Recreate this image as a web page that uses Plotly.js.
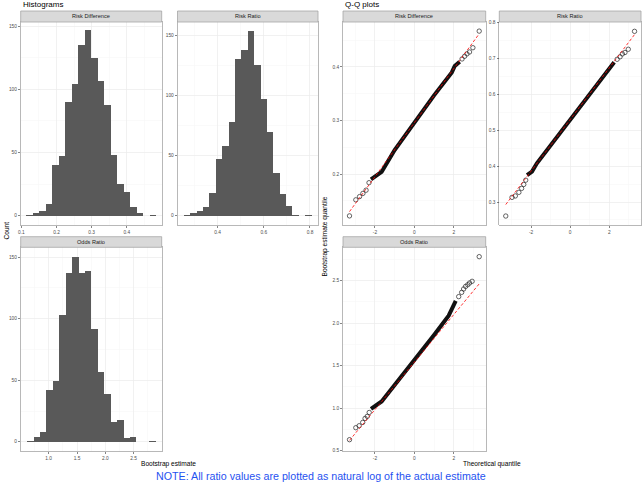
<!DOCTYPE html>
<html>
<head>
<meta charset="utf-8">
<script src="https://cdn.plot.ly/plotly-3.0.1.min.js"></script>
<style>html,body{margin:0;padding:0;background:#fff;}#chart{width:642px;height:482px;}</style>
</head>
<body>
<div id="chart"></div>
<script>
// ---------- DATA ----------
const facetLabels = ["Risk Difference", "Risk Ratio", "Odds Ratio"];

// Histogram bins (centres) and counts
const histRdCenters = [0.1227,0.1413,0.1598,0.1784,0.1970,0.2155,0.2341,0.2526,0.2712,0.2898,0.3083,0.3269,0.3454,0.3640,0.3826,0.4011,0.4197,0.4382,0.4568,0.4754];
const histRdCounts  = [1,2,4,9,40,47,90,104,135,147,125,107,88,48,25,19,7,2,0,1];

const histRrCenters = [0.2681,0.2957,0.3234,0.3510,0.3787,0.4063,0.4339,0.4616,0.4892,0.5169,0.5445,0.5722,0.5998,0.6274,0.6551,0.6827,0.7104,0.7380,0.7657,0.7933];
const histRrCounts  = [1,2,4,7,19,47,58,78,131,138,154,126,97,70,36,18,8,1,0,1];

const histOrCenters = [0.6757,0.7892,0.9026,1.0161,1.1295,1.2430,1.3564,1.4699,1.5833,1.6968,1.8102,1.9237,2.0371,2.1506,2.2640,2.3775,2.4909,2.6044,2.7178,2.8313];
const histOrCounts  = [1,4,8,42,49,103,137,150,137,139,92,57,39,16,18,3,4,0,0,1];

// Q-Q plots: dense central band (overlapping circles), separate tail points, reference line
const qqRdBandTheo   = [-2.2,-1.95,-1.66,-1.0,0.0,1.0,1.9,2.05,2.3];
const qqRdBandSample = [0.190,0.196,0.204,0.245,0.297,0.347,0.390,0.402,0.410];
const qqRdTailTheo   = [-3.29,-2.97,-2.78,-2.61,-2.45,-2.3,2.42,2.55,2.67,2.8,2.97,3.29];
const qqRdTailSample = [0.122,0.152,0.158,0.164,0.170,0.184,0.415,0.420,0.4245,0.428,0.436,0.467];
const qqRdLineTheo   = [-3.29,3.29];
const qqRdLineSample = [0.130,0.462];

const qqRrBandTheo   = [-2.2,-1.95,-1.7,-1.0,0.0,1.0,1.87,2.1,2.25];
const qqRrBandSample = [0.375,0.385,0.408,0.458,0.530,0.602,0.665,0.680,0.690];
const qqRrTailTheo   = [-3.29,-2.97,-2.8,-2.62,-2.48,-2.37,-2.27,2.4,2.55,2.67,2.8,2.97,3.29];
const qqRrTailSample = [0.261,0.313,0.317,0.327,0.338,0.349,0.361,0.698,0.705,0.713,0.717,0.726,0.776];
const qqRrLineTheo   = [-3.29,3.29];
const qqRrLineSample = [0.293,0.767];

const qqOrBandTheo   = [-2.2,-1.95,-1.66,-1.0,0.0,1.0,1.74,1.95,2.1];
const qqOrBandSample = [0.99,1.03,1.078,1.27,1.56,1.86,2.086,2.20,2.26];
const qqOrTailTheo   = [-3.29,-2.97,-2.8,-2.62,-2.5,-2.39,-2.29,2.25,2.4,2.5,2.6,2.71,2.8,2.93,3.29];
const qqOrTailSample = [0.628,0.769,0.792,0.831,0.878,0.902,0.948,2.31,2.36,2.40,2.43,2.45,2.47,2.49,2.78];
const qqOrLineTheo   = [-3.29,3.29];
const qqOrLineSample = [0.62,2.46];

// Tick values / labels
const histRdXTicks = [0.1,0.2,0.3,0.4];      const histRdXLabels = ["0.1","0.2","0.3","0.4"];
const histRrXTicks = [0.4,0.6,0.8];          const histRrXLabels = ["0.4","0.6","0.8"];
const histOrXTicks = [1.0,1.5,2.0,2.5];      const histOrXLabels = ["1.0","1.5","2.0","2.5"];
const countTicks   = [0,50,100,150];         const countLabels   = ["0","50","100","150"];
const qqXTicks     = [-2,0,2];               const qqXLabels     = ["-2","0","2"];
const qqRdYTicks   = [0.2,0.3,0.4];          const qqRdYLabels   = ["0.2","0.3","0.4"];
const qqRrYTicks   = [0.3,0.4,0.5,0.6,0.7,0.8]; const qqRrYLabels = ["0.3","0.4","0.5","0.6","0.7","0.8"];
const qqOrYTicks   = [0.5,1.0,1.5,2.0,2.5];  const qqOrYLabels   = ["0.5","1.0","1.5","2.0","2.5"];

// ---------- LAYOUT HELPERS ----------
const W = 642, H = 482;
const FONT = "Liberation Sans, Arial, sans-serif";
const px = v => v / W;
const py = v => 1 - v / H;

function axis(domainPx, isY, range, tickvals, ticktext, minorvals, anchor) {
  const dom = isY ? [py(domainPx[1]), py(domainPx[0])] : [px(domainPx[0]), px(domainPx[1])];
  return {
    domain: dom, range: range, anchor: anchor, automargin: false,
    tickmode: "array", tickvals: tickvals, ticktext: ticktext,
    ticks: "outside", ticklen: 2, tickwidth: 0.6, tickcolor: "#333333",
    tickfont: {family: FONT, size: 4.8, color: "#4d4d4d"},
    showgrid: true, gridcolor: "#ebebeb", gridwidth: 0.7,
    minor: {tickmode: "array", tickvals: minorvals, showgrid: true, gridcolor: "#f5f5f5", gridwidth: 0.5, ticks: ""},
    zeroline: false, showline: true, mirror: true, linecolor: "#a6a6a6", linewidth: 0.8,
    fixedrange: true
  };
}

// Panel pixel boxes [x0,x1] and [y0,y1]
const colA = [20.7, 161.7], colB = [177.5, 318], colC = [343, 485.7], colD = [499.3, 641];
const rowTop = [22, 225], rowBot = [247.3, 451];
const stripTop = [11, 22], stripBot = [236.7, 247.3];

const layout = {
  width: W, height: H, margin: {l: 0, r: 0, t: 0, b: 0},
  paper_bgcolor: "#ffffff", plot_bgcolor: "#ffffff",
  showlegend: false, bargap: 0,
  font: {family: FONT},
  xaxis:  axis(colA, false, [0.098, 0.4995], histRdXTicks, histRdXLabels, [0.15,0.25,0.35,0.45], "y"),
  yaxis:  axis(rowTop, true, [-7.3, 153.3], countTicks, countLabels, [25,75,125], "x"),
  xaxis2: axis(colB, false, [0.2267, 0.8347], histRrXTicks, histRrXLabels, [0.3,0.5,0.7], "y2"),
  yaxis2: axis(rowTop, true, [-7.7, 161.5], countTicks, countLabels, [25,75,125], "x2"),
  xaxis3: axis(colA, false, [0.506, 2.995], histOrXTicks, histOrXLabels, [0.75,1.25,1.75,2.25,2.75], "y3"),
  yaxis3: axis(rowBot, true, [-7.5, 158], countTicks, countLabels, [25,75,125], "x3"),
  xaxis4: axis(colC, false, [-3.62, 3.62], qqXTicks, qqXLabels, [-3,-1,1,3], "y4"),
  yaxis4: axis(rowTop, true, [0.105, 0.484], qqRdYTicks, qqRdYLabels, [0.15,0.25,0.35,0.45], "x4"),
  xaxis5: axis(colD, false, [-3.62, 3.62], qqXTicks, qqXLabels, [-3,-1,1,3], "y5"),
  yaxis5: axis(rowTop, true, [0.236, 0.802], qqRrYTicks, qqRrYLabels, [0.25,0.35,0.45,0.55,0.65,0.75], "x5"),
  xaxis6: axis(colC, false, [-3.62, 3.62], qqXTicks, qqXLabels, [-3,-1,1,3], "y6"),
  yaxis6: axis(rowBot, true, [0.495, 2.89], qqOrYTicks, qqOrYLabels, [0.75,1.25,1.75,2.25,2.75], "x6"),
  shapes: [],
  annotations: []
};

// strips
const strips = [
  {x: colA, y: stripTop, label: facetLabels[0]},
  {x: colB, y: stripTop, label: facetLabels[1]},
  {x: colA, y: stripBot, label: facetLabels[2]},
  {x: colC, y: stripTop, label: facetLabels[0]},
  {x: colD, y: stripTop, label: facetLabels[1]},
  {x: colC, y: stripBot, label: facetLabels[2]}
];
strips.forEach(s => {
  layout.shapes.push({type: "rect", xref: "paper", yref: "paper",
    x0: px(s.x[0]), x1: px(s.x[1]), y0: py(s.y[1]), y1: py(s.y[0]),
    fillcolor: "#d9d9d9", line: {color: "#a6a6a6", width: 0.8}, layer: "above"});
  layout.annotations.push({xref: "paper", yref: "paper", x: px((s.x[0] + s.x[1]) / 2), y: py((s.y[0] + s.y[1]) / 2),
    text: s.label, showarrow: false, xanchor: "center", yanchor: "middle",
    font: {family: FONT, size: 5.6, color: "#1a1a1a"}});
});

function txt(text, x, y, size, opts) {
  return Object.assign({xref: "paper", yref: "paper", x: px(x), y: py(y), text: text, showarrow: false,
    xanchor: "center", yanchor: "middle", font: {family: FONT, size: size, color: "#000000"}}, opts || {});
}
layout.annotations.push(txt("Histograms", 20.7, 5, 8, {xanchor: "left"}));
layout.annotations.push(txt("Q-Q plots", 343, 5, 8, {xanchor: "left"}));
layout.annotations.push(txt("Count", 5.5, 230, 6.6, {textangle: -90}));
layout.annotations.push(txt("Bootstrap estimate", 169, 464, 6.6));
layout.annotations.push(txt("Bootstrap estimate quantile", 324.5, 237, 6.6, {textangle: -90}));
layout.annotations.push(txt("Theoretical quantile", 492, 464, 6.6));
layout.annotations.push(txt("NOTE: All ratio values are plotted as natural log of the actual estimate", 321, 476, 10.7,
  {font: {family: FONT, size: 10.7, color: "#1f52f0"}}));

// ---------- TRACES ----------
const barStyle = {color: "#595959", line: {width: 0}};
function qqTraces(bandX, bandY, tailX, tailY, lineX, lineY, xa, ya) {
  return [
    {type: "scatter", mode: "lines", x: bandX, y: bandY, xaxis: xa, yaxis: ya,
     line: {color: "#111111", width: 4.0}, hoverinfo: "skip"},
    {type: "scatter", mode: "markers", x: tailX, y: tailY, xaxis: xa, yaxis: ya,
     marker: {symbol: "circle-open", size: 4.4, color: "#222222", line: {width: 0.7, color: "#222222"}}},
    {type: "scatter", mode: "lines", x: lineX, y: lineY, xaxis: xa, yaxis: ya,
     line: {color: "#ff0000", width: 0.8, dash: "3px,2px"}}
  ];
}

const data = [
  {type: "bar", x: histRdCenters, y: histRdCounts, xaxis: "x", yaxis: "y", marker: barStyle},
  {type: "bar", x: histRrCenters, y: histRrCounts, xaxis: "x2", yaxis: "y2", marker: barStyle},
  {type: "bar", x: histOrCenters, y: histOrCounts, xaxis: "x3", yaxis: "y3", marker: barStyle}
].concat(
  qqTraces(qqRdBandTheo, qqRdBandSample, qqRdTailTheo, qqRdTailSample, qqRdLineTheo, qqRdLineSample, "x4", "y4"),
  qqTraces(qqRrBandTheo, qqRrBandSample, qqRrTailTheo, qqRrTailSample, qqRrLineTheo, qqRrLineSample, "x5", "y5"),
  qqTraces(qqOrBandTheo, qqOrBandSample, qqOrTailTheo, qqOrTailSample, qqOrLineTheo, qqOrLineSample, "x6", "y6")
);

Plotly.newPlot("chart", data, layout, {staticPlot: true, displayModeBar: false});
</script>
</body>
</html>
